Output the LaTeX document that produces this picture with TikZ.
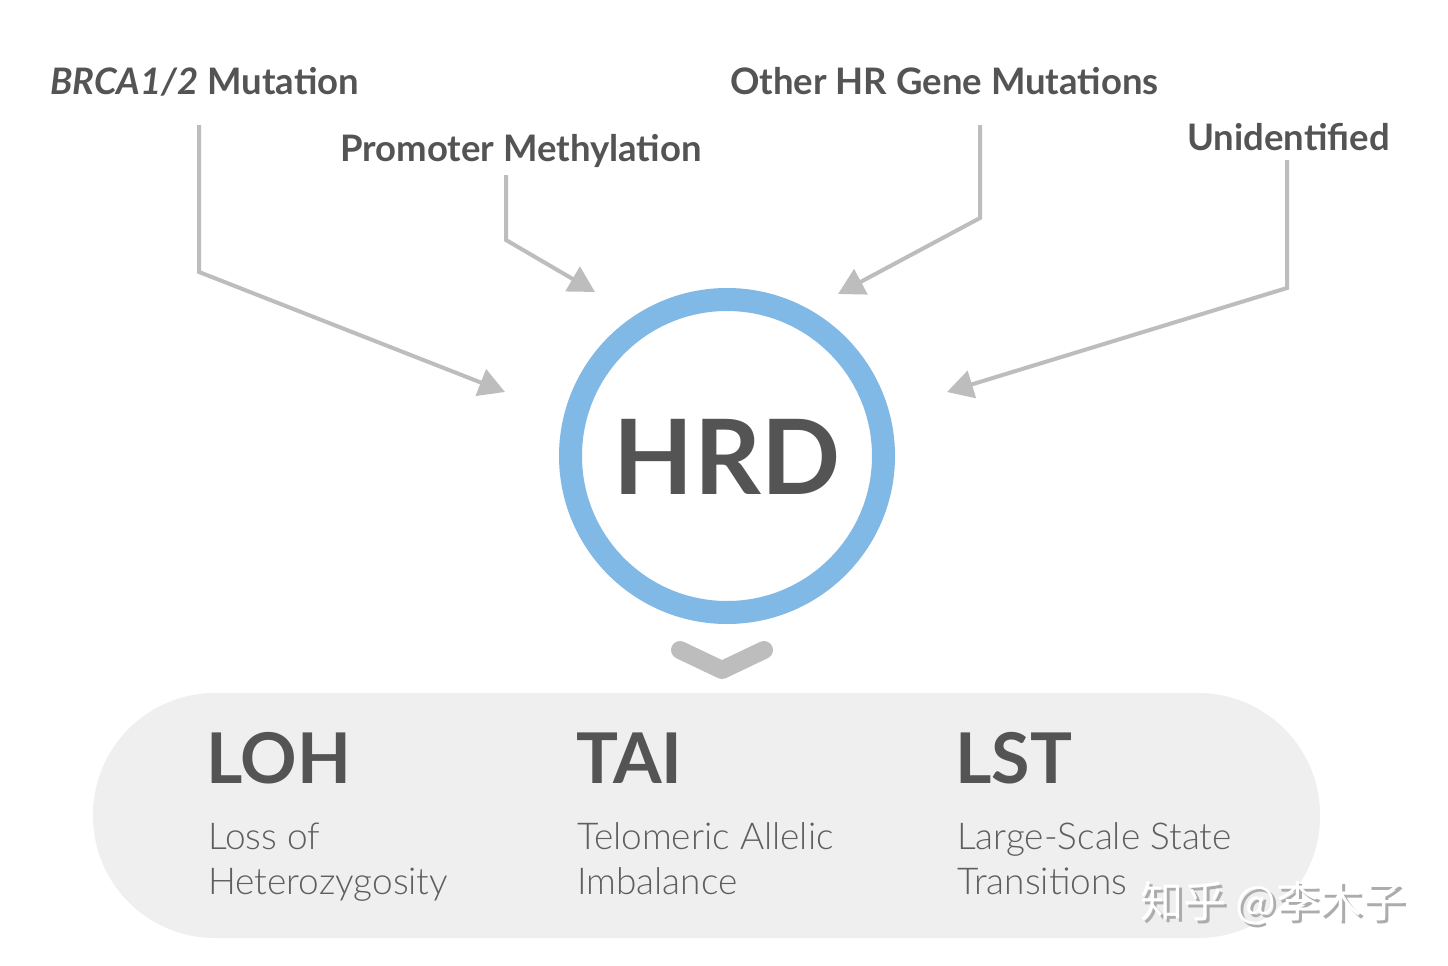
\documentclass[tikz,border=0pt]{standalone}
\usepackage{fontspec}
\setmainfont{Lato}
\newfontfamily\lightfont{Lato Light}
\newfontfamily\cjkfont{Noto Sans CJK SC}
\usetikzlibrary{arrows.meta}
\definecolor{txt}{HTML}{545454}
\definecolor{txtl}{HTML}{5E5E5E}
\definecolor{arr}{HTML}{BDBDBD}
\definecolor{ring}{HTML}{80B8E6}
\definecolor{pill}{HTML}{EFEFEF}
\begin{document}
\begin{tikzpicture}[x=1pt,y=-1pt,
  lbl/.style={anchor=base west, inner sep=0pt, text=txt, font=\fontsize{36.5}{40}\selectfont\bfseries},
  big/.style={anchor=base west, inner sep=0pt, text=txt, font=\fontsize{70}{80}\selectfont\bfseries},
  desc/.style={anchor=base west, inner sep=0pt, text=txtl, font=\lightfont\fontsize{37}{45}\selectfont},
  wmk/.style={anchor=base west, inner sep=0pt, font=\cjkfont\fontsize{43}{48}\selectfont},
  conn/.style={draw=arr, line width=4pt, -{Triangle[length=26pt,width=28pt]}}]
\useasboundingbox (0,0) rectangle (1448,966);
\fill[white] (0,0) rectangle (1448,966);
% pill
\fill[pill, rounded corners=122pt] (93,693) rectangle (1320,938);
% ring
\node[circle, draw=ring, line width=23pt, minimum size=313pt, inner sep=0pt] (hrd) at (727,456) {};
\node[anchor=base, inner sep=0pt, text=txt, font=\fontsize{104}{120}\selectfont\bfseries] (hrdt) at (727,494) {HRD};
% chevron
\coordinate (c1) at (680,650);
\coordinate (c2) at (722,670);
\coordinate (c3) at (764,650);
\draw[arr, line width=18pt, line cap=round, line join=round] (c1) -- (c2) -- (c3);
% labels
\node[lbl] (brca) at (50,95) {\textit{BRCA1/2} Mutation};
\node[lbl] (prom) at (340,161) {Promoter Methylation};
\node[lbl] (other) at (730,95) {Other HR Gene Mutations};
\node[lbl] (unid) at (1187,150) {Unidentified};
% connectors
\coordinate (b0) at (199,125); \coordinate (b1) at (199,272); \coordinate (b2) at (505,392);
\coordinate (p0) at (506,175); \coordinate (p1) at (506,240); \coordinate (p2) at (595,292);
\coordinate (o0) at (980,125); \coordinate (o1) at (980,218); \coordinate (o2) at (838,294);
\coordinate (u0) at (1287,160); \coordinate (u1) at (1287,288); \coordinate (u2) at (947,392);
\draw[conn] (b0) -- (b1) -- (b2);
\draw[conn] (p0) -- (p1) -- (p2);
\draw[conn] (o0) -- (o1) -- (o2);
\draw[conn] (u0) -- (u1) -- (u2);
% bottom
\node[big] (loh) at (206,783) {LOH};
\node[big] (tai) at (576,783) {TAI};
\node[big] (lst) at (955,783) {LST};
\node[desc] (lohd1) at (208,849) {Loss of};
\node[desc] (lohd2) at (208,894) {Heterozygosity};
\node[desc] (taid1) at (577,849) {Telomeric Allelic};
\node[desc] (taid2) at (577,894) {Imbalance};
\node[desc] (lstd1) at (957,849) {Large-Scale State};
\node[desc] (lstd2) at (957,894) {Transitions};
% watermark (white text with a grey shadow)
\node[wmk, text=white] (wm) at (1140,917) {\rlap{\kern3pt\raisebox{-3pt}{\color{gray!65}知乎 @李木子}}知乎 @李木子};
\end{tikzpicture}
\end{document}
